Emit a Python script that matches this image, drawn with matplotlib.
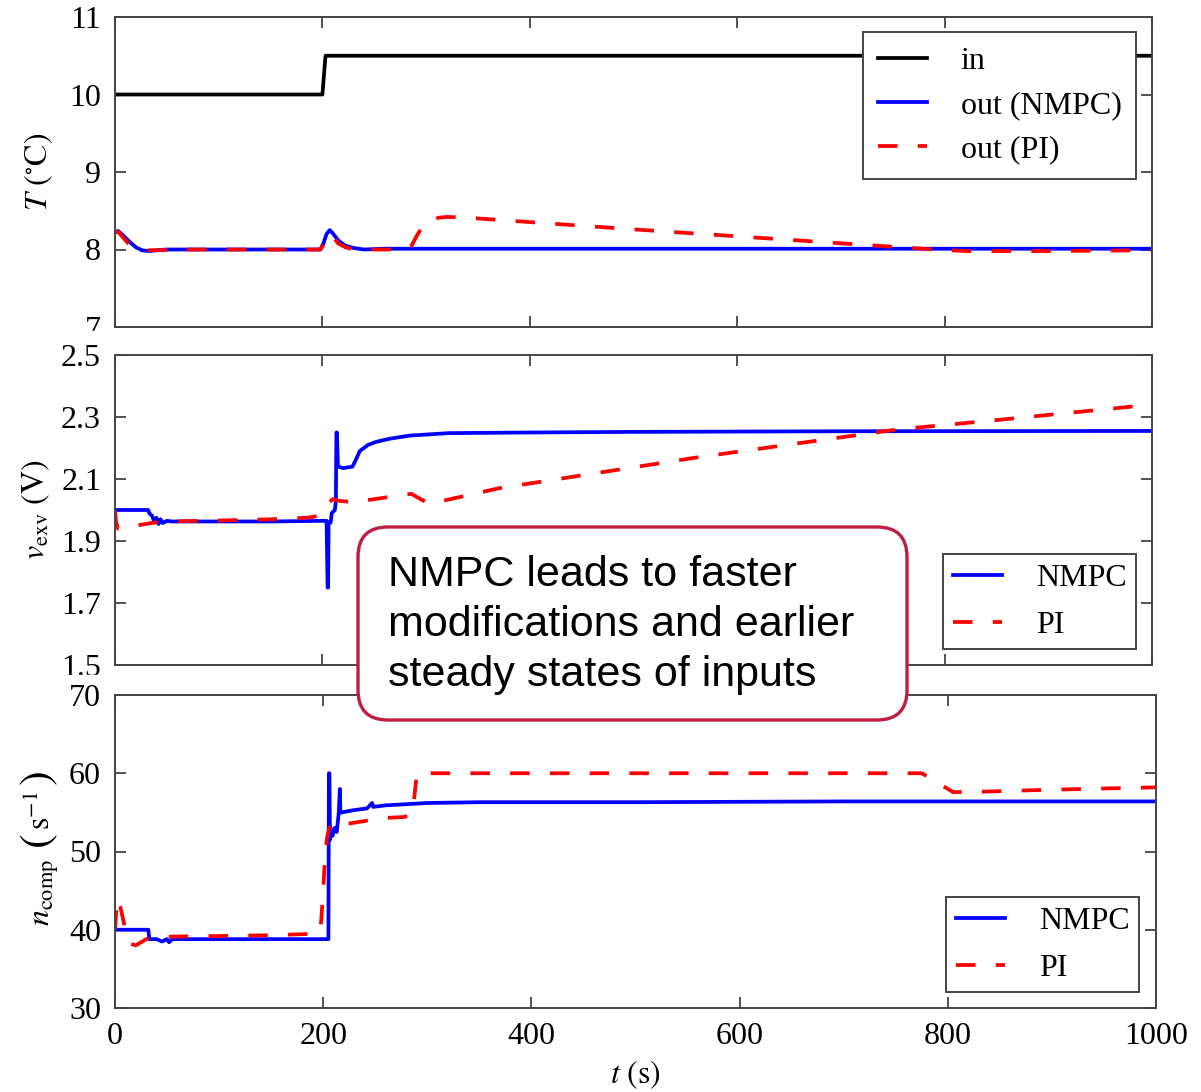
import numpy as np
import matplotlib
matplotlib.use("Agg")
import matplotlib.pyplot as plt
from matplotlib.patches import FancyBboxPatch, Rectangle

plt.rcParams['font.family'] = ['Liberation Serif', 'DejaVu Serif']
plt.rcParams['mathtext.fontset'] = 'stix'
plt.rcParams['font.size'] = 23

# ---- data ----
# temperature panel
t_in = [0, 200, 203, 1000]
T_in = [10, 10, 10.5, 10.5]

t_T_nmpc = [0, 3, 8, 14, 20, 26, 32, 40, 50, 60, 100, 150, 198, 201, 204, 207,
            210, 215, 222, 230, 240, 260, 400, 600, 800, 1000]
T_nmpc = [8.22, 8.24, 8.18, 8.10, 8.03, 7.99, 7.98, 7.99, 8.0, 8.0, 8.0, 8.0,
          8.0, 8.08, 8.2, 8.25, 8.21, 8.12, 8.05, 8.02, 8.0, 8.01, 8.01, 8.01,
          8.01, 8.01]

t_T_pi = [0, 3, 8, 14, 20, 26, 32, 40, 60, 100, 198, 201, 204, 207, 210, 215,
          222, 230, 240, 280, 286, 292, 298, 305, 312, 320, 340, 500, 700, 790,
          820, 900, 1000]
T_pi = [8.22, 8.23, 8.15, 8.06, 8.01, 8.0, 7.99, 7.99, 8.0, 8.0, 8.0, 8.06,
        8.15, 8.2, 8.17, 8.08, 8.03, 8.0, 8.0, 8.0, 8.05, 8.2, 8.32, 8.38, 8.41,
        8.42, 8.41, 8.26, 8.08, 8.0, 7.98, 7.98, 7.99]

# valve voltage panel
t_v_nmpc = [0, 32, 33, 36, 38, 40, 42, 44, 46, 50, 55, 100, 150, 200, 204, 205,
            205.5, 206, 208, 209, 212, 213, 213.5, 214, 215, 220, 229, 232, 236,
            244, 252, 265, 284, 322, 400, 500, 700, 1000]
v_nmpc = [2.0, 2.0, 1.99, 1.98, 1.96, 1.975, 1.955, 1.97, 1.958, 1.965, 1.963,
          1.963, 1.963, 1.965, 1.965, 1.75, 1.75, 1.96, 1.96, 1.99, 2.0, 2.03,
          2.25, 2.25, 2.14, 2.135, 2.14, 2.16, 2.19, 2.21, 2.22, 2.23, 2.24,
          2.248, 2.25, 2.252, 2.254, 2.255]

t_v_pi = [0, 1, 3, 10, 21, 35, 50, 100, 150, 185, 195, 200, 205, 210, 215, 230,
          260, 280, 286, 292, 303, 330, 370, 466, 562, 755, 850, 1000]
v_pi = [2.0, 1.96, 1.94, 1.945, 1.95, 1.958, 1.963, 1.966, 1.97, 1.975, 1.98,
        1.99, 2.02, 2.035, 2.03, 2.025, 2.04, 2.05, 2.052, 2.04, 2.02, 2.04,
        2.07, 2.12, 2.17, 2.26, 2.29, 2.34]

# compressor speed panel
t_n_nmpc = [0, 32, 33, 40, 45, 50, 52, 55, 100, 150, 205, 205.5, 206, 206.5,
            207, 209, 211, 213, 215, 216, 216.5, 218, 230, 242, 247, 248, 260,
            274, 300, 350, 500, 700, 1000]
n_nmpc = [40, 40, 38.8, 38.8, 38.5, 38.8, 38.4, 38.8, 38.8, 38.8, 38.8, 60, 60,
          51.5, 53, 52, 53, 52.5, 55, 58, 55, 55, 55.3, 55.5, 56.2, 55.7, 55.9,
          56.0, 56.2, 56.3, 56.3, 56.4, 56.4]

t_n_pi = [0, 2, 5, 10, 15, 20, 30, 40, 100, 150, 195, 198, 200, 202, 204, 206,
          208, 215, 226, 240, 261, 277, 284, 287, 290, 300, 500, 775, 790, 805,
          820, 900, 1000]
n_pi = [40, 44, 43, 40, 38.2, 38, 38.8, 39.1, 39.2, 39.3, 39.5, 41, 45, 50, 52,
        53, 53.6, 53.4, 53.6, 53.9, 54.3, 54.4, 54.6, 56.3, 60, 60, 60, 60, 58.8,
        57.6, 57.6, 57.9, 58.2]

note = "NMPC leads to faster\nmodifications and earlier\nsteady states of inputs"

# speed label pieces (big brackets around the unit): text, size, centre y in px
ncomp_pieces = [(r'$n_{\mathrm{comp}}$', 23, 892),
                (r'$($', 32, 841),
                (r'$\mathrm{s}^{-1}$', 23, 810),
                (r'$)$', 32, 779)]

# ---- figure ----
W, H = 1201, 1092
fig = plt.figure(figsize=(W / 100, H / 100), dpi=100)

def px_axes(x0, y0, x1, y1):
    return fig.add_axes([x0 / W, 1 - y1 / H, (x1 - x0) / W, (y1 - y0) / H])

ax1 = px_axes(115, 17, 1152, 327)
ax2 = px_axes(115, 355, 1152, 665)
ax3 = px_axes(115, 695, 1156, 1008)

lw = 2.7
dash = (0, (5.2, 5.4))
frame = '#444444'

ax1.plot(t_in, T_in, color='black', lw=lw, label='in')
ax1.plot(t_T_nmpc, T_nmpc, color='blue', lw=lw, label='out (NMPC)')
ax1.plot(t_T_pi, T_pi, color='red', lw=lw, ls=dash, label='out (PI)')
ax1.set_ylim(7, 11)
ax1.set_yticks([7, 8, 9, 10, 11])
ax1.set_ylabel(r'$T\ (^{\circ}\mathrm{C})$')

ax2.plot(t_v_nmpc, v_nmpc, color='blue', lw=lw, label='NMPC')
ax2.plot(t_v_pi, v_pi, color='red', lw=lw, ls=dash, label='PI')
ax2.set_ylim(1.5, 2.5)
ax2.set_yticks([1.5, 1.7, 1.9, 2.1, 2.3, 2.5])
ax2.set_ylabel(r'$v_{\mathrm{exv}}\ (\mathrm{V})$')

ax3.plot(t_n_nmpc, n_nmpc, color='blue', lw=lw, label='NMPC')
ax3.plot(t_n_pi, n_pi, color='red', lw=lw, ls=dash, label='PI')
ax3.set_ylim(30, 70)
ax3.set_yticks([30, 40, 50, 60, 70])
ax3.set_xlabel(r'$t\ (\mathrm{s})$')
for txt, size, yc in ncomp_pieces:
    fig.text(0.50, (H - yc) / 100, txt, transform=fig.dpi_scale_trans,
             rotation=90, rotation_mode='anchor', ha='center', va='baseline',
             fontsize=size)

for ax in (ax1, ax2, ax3):
    ax.set_xlim(0, 1000)
    ax.set_xticks([0, 200, 400, 600, 800, 1000])
    ax.tick_params(direction='in', length=8, width=1.3, color=frame, pad=10,
                   top=True, right=True)
    for s in ax.spines.values():
        s.set_color(frame)
        s.set_linewidth(1.4)
ax1.yaxis.set_label_coords(-0.058, 0.5)
ax2.yaxis.set_label_coords(-0.061, 0.5)
ax1.tick_params(labelbottom=False)
ax2.tick_params(labelbottom=False)
ax3.xaxis.set_label_coords(0.5, -0.16)

leg_kw = dict(fancybox=False, framealpha=1, edgecolor=frame, handlelength=1.55,
              handletextpad=1.05, borderaxespad=0, fontsize=23)
l1 = ax1.legend(loc='upper right', bbox_to_anchor=(0.9846, 0.9516),
                labelspacing=0.47, borderpad=0.45, **leg_kw)
l2 = ax2.legend(loc='upper right', bbox_to_anchor=(0.9846, 0.358),
                labelspacing=0.55, borderpad=0.3, **leg_kw)
l3 = ax3.legend(loc='upper right', bbox_to_anchor=(0.9837, 0.3546),
                labelspacing=0.55, borderpad=0.3, **leg_kw)
for l in (l1, l2, l3):
    l.get_frame().set_linewidth(1.4)

# clip the lowest tick labels like in the stacked original
fig.add_artist(Rectangle((0, (H - 341) / 100), 1.1, 0.10,
                         transform=fig.dpi_scale_trans, color='white', zorder=5))
fig.add_artist(Rectangle((0, (H - 683) / 100), 1.1, 0.08,
                         transform=fig.dpi_scale_trans, color='white', zorder=5))

# annotation box
box = FancyBboxPatch((3.58, (H - 720) / 100), 5.49, 1.93,
                     boxstyle='round,pad=0,rounding_size=0.3',
                     transform=fig.dpi_scale_trans, facecolor='white',
                     edgecolor='#BE1E41', lw=2.4, zorder=6)
fig.add_artist(box)
fig.text(3.88, (H - 555) / 100, note, transform=fig.dpi_scale_trans,
         ha='left', va='top', fontsize=31, family='Liberation Sans',
         linespacing=1.33, zorder=7)

fig.savefig('out.png', dpi=100)
